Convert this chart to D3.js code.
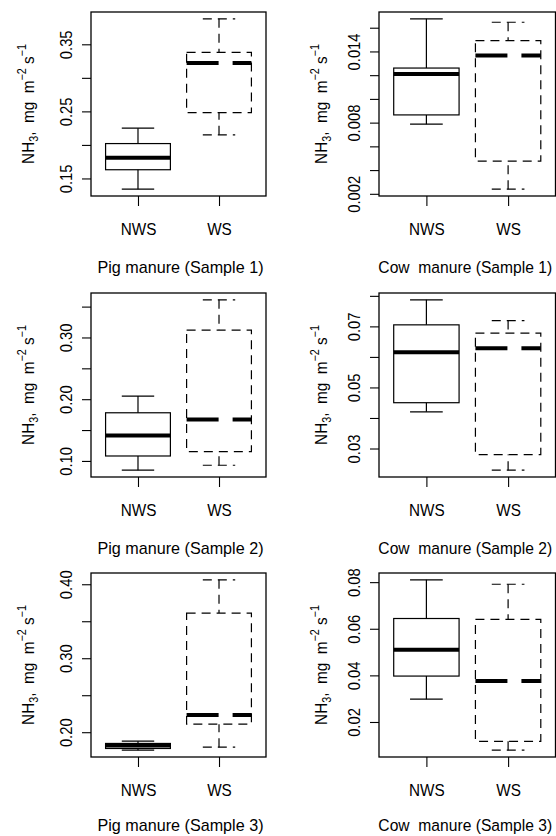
<!DOCTYPE html>
<html>
<head>
<meta charset="utf-8">
<script src="https://cdn.jsdelivr.net/npm/d3@7"></script>
<style>
  body { margin: 0; background: #fff; }
  text { font-family: "Liberation Sans", Arial, Helvetica, sans-serif; fill: #000; white-space: pre; }
</style>
</head>
<body>
<script>
// groups on the x axis of every panel
var groups = ["NWS", "WS"];

var titles = ["Pig manure (Sample 1)", "Cow  manure (Sample 1)",
              "Pig manure (Sample 2)", "Cow  manure (Sample 2)",
              "Pig manure (Sample 3)", "Cow  manure (Sample 3)"];

// five numbers per box: lower whisker, Q1, median, Q3, upper whisker
var nwsStats = [
    [0.134, 0.163, 0.181, 0.202, 0.225],
    [0.00787, 0.00865, 0.0121, 0.0126, 0.01675],
    [0.085, 0.108, 0.141, 0.178, 0.205],
    [0.042, 0.045, 0.0615, 0.0705, 0.0787],
    [0.1757, 0.178, 0.1821, 0.1848, 0.1879],
    [0.0298, 0.0397, 0.051, 0.0644, 0.081]
];
var wsStats = [
    [0.215, 0.248, 0.322, 0.338, 0.388],
    [0.00239, 0.00476, 0.01366, 0.01492, 0.01646],
    [0.093, 0.115, 0.167, 0.312, 0.361],
    [0.0229, 0.028, 0.0628, 0.0678, 0.0719],
    [0.1798, 0.2108, 0.2234, 0.361, 0.406],
    [0.0079, 0.0117, 0.0376, 0.064, 0.0791]
];

// y ticks, and the ones that get a label
var yTicks = [
    [0.15, 0.20, 0.25, 0.30, 0.35],
    [0.002, 0.004, 0.006, 0.008, 0.010, 0.012, 0.014, 0.016],
    [0.10, 0.15, 0.20, 0.25, 0.30, 0.35],
    [0.03, 0.04, 0.05, 0.06, 0.07, 0.08],
    [0.20, 0.25, 0.30, 0.35, 0.40],
    [0.02, 0.04, 0.06, 0.08]
];
var yTickLabels = [
    ["0.15", "0.25", "0.35"],
    ["0.002", "0.008", "0.014"],
    ["0.10", "0.20", "0.30"],
    ["0.03", "0.05", "0.07"],
    ["0.20", "0.30", "0.40"],
    ["0.02", "0.04", "0.06", "0.08"]
];

//__layout__//
var width = 556, height = 836;
var colLeft = [91, 379], colWidth = [175, 176.5];
var rowTop = [12, 293, 573], rowHeight = 184;
var titleOffset = [57, 52]; // distance of ylab baseline from plot edge
var xTitleShift = [2, -2], xTitleScale = [0.95, 0.92];
var thinDash = "9,6", medianDash = "32,14";

var svg = d3.select("body").append("svg")
    .attr("width", width)
    .attr("height", height);

titles.forEach(function (title, i) {
    var col = i % 2, row = Math.floor(i / 2);
    var left = colLeft[col], top = rowTop[row];
    var w = colWidth[col], h = rowHeight;
    var all = nwsStats[i].concat(wsStats[i]);
    var lo = d3.min(all), hi = d3.max(all), pad = (hi - lo) * 0.04;

    var x = d3.scaleLinear().domain([0.42, 2.58]).range([0, w]);
    var y = d3.scaleLinear().domain([lo - pad, hi + pad]).range([h, 0]);

    var g = svg.append("g").attr("transform", "translate(" + left + "," + top + ")");

    // y axis
    var labels = yTickLabels[i];
    var yAxis = g.append("g")
        .call(d3.axisLeft(y).tickValues(yTicks[i]).tickSize(9).tickSizeOuter(0)
            .tickFormat(function (d) {
                var s = labels.find(function (l) { return Math.abs(+l - d) < 1e-9; });
                return s || "";
            }));
    yAxis.select(".domain").remove();
    yAxis.selectAll("line").attr("stroke", "#000").attr("stroke-width", 1.1);
    yAxis.selectAll("text")
        .attr("x", null).attr("dy", null)
        .attr("text-anchor", "middle")
        .attr("font-size", 17)
        .attr("transform", "translate(-19,0) rotate(-90) scale(0.87,1)");

    // x axis
    var xAxis = g.append("g")
        .attr("transform", "translate(0," + h + ")")
        .call(d3.axisBottom(x).tickValues([1, 2]).tickSize(10).tickSizeOuter(0)
            .tickFormat(function (d) { return groups[d - 1]; }));
    xAxis.select(".domain").remove();
    xAxis.selectAll("line").attr("stroke", "#000").attr("stroke-width", 1.1);
    xAxis.selectAll("text")
        .attr("y", 39).attr("dy", null)
        .attr("font-size", 17)
        .attr("transform", "scale(0.9,1)");

    // boxes
    [nwsStats[i], wsStats[i]].forEach(function (s, k) {
        var cx = x(k + 1), half = (x(1.4) - x(1)), cap = half / 2;
        var dash = k == 1 ? thinDash : null;
        var box = g.append("g").attr("fill", "none").attr("stroke", "#000");

        // whiskers drawn from the end toward the box
        box.append("line").attr("x1", cx).attr("x2", cx)
            .attr("y1", y(s[4])).attr("y2", y(s[3]))
            .attr("stroke-width", 1.2).attr("stroke-dasharray", dash);
        box.append("line").attr("x1", cx).attr("x2", cx)
            .attr("y1", y(s[0])).attr("y2", y(s[1]))
            .attr("stroke-width", 1.2).attr("stroke-dasharray", dash);
        // staples
        [s[0], s[4]].forEach(function (v) {
            box.append("line").attr("x1", cx - cap).attr("x2", cx + cap)
                .attr("y1", y(v)).attr("y2", y(v))
                .attr("stroke-width", 1.2).attr("stroke-dasharray", dash);
        });
        box.append("rect")
            .attr("x", cx - half).attr("width", 2 * half)
            .attr("y", y(s[3])).attr("height", y(s[1]) - y(s[3]))
            .attr("stroke-width", 1.2).attr("stroke-dasharray", dash);
        box.append("line").attr("x1", cx - half).attr("x2", cx + half)
            .attr("y1", y(s[2])).attr("y2", y(s[2]))
            .attr("stroke-width", 4)
            .attr("stroke-dasharray", k == 1 ? medianDash : null);
    });

    // frame
    g.append("rect")
        .attr("width", w).attr("height", h)
        .attr("fill", "none").attr("stroke", "#000").attr("stroke-width", 1.3);

    // x title
    g.append("g")
        .attr("transform", "translate(" + (w / 2 + xTitleShift[col]) + "," + (h + (row == 2 ? 74 : 77)) + ") scale(" + xTitleScale[col] + ",1)")
        .append("text")
        .attr("text-anchor", "middle")
        .attr("font-size", 17)
        .text(title);

    // y title: NH3, mg m-2 s-1
    var yt = g.append("g")
        .attr("transform", "translate(" + (-titleOffset[col]) + "," + (h / 2) + ") rotate(-90) scale(0.9,1)")
        .append("text")
        .attr("text-anchor", "middle")
        .attr("font-size", 17);
    yt.append("tspan").text("NH");
    yt.append("tspan").attr("dy", 4).attr("font-size", 12).text("3");
    yt.append("tspan").attr("dy", -4).text(",  mg  m");
    yt.append("tspan").attr("dy", -8).attr("font-size", 12).text("\u22122");
    yt.append("tspan").attr("dy", 8).text(" s");
    yt.append("tspan").attr("dy", -8).attr("font-size", 12).text("\u22121");
});
</script>
</body>
</html>
